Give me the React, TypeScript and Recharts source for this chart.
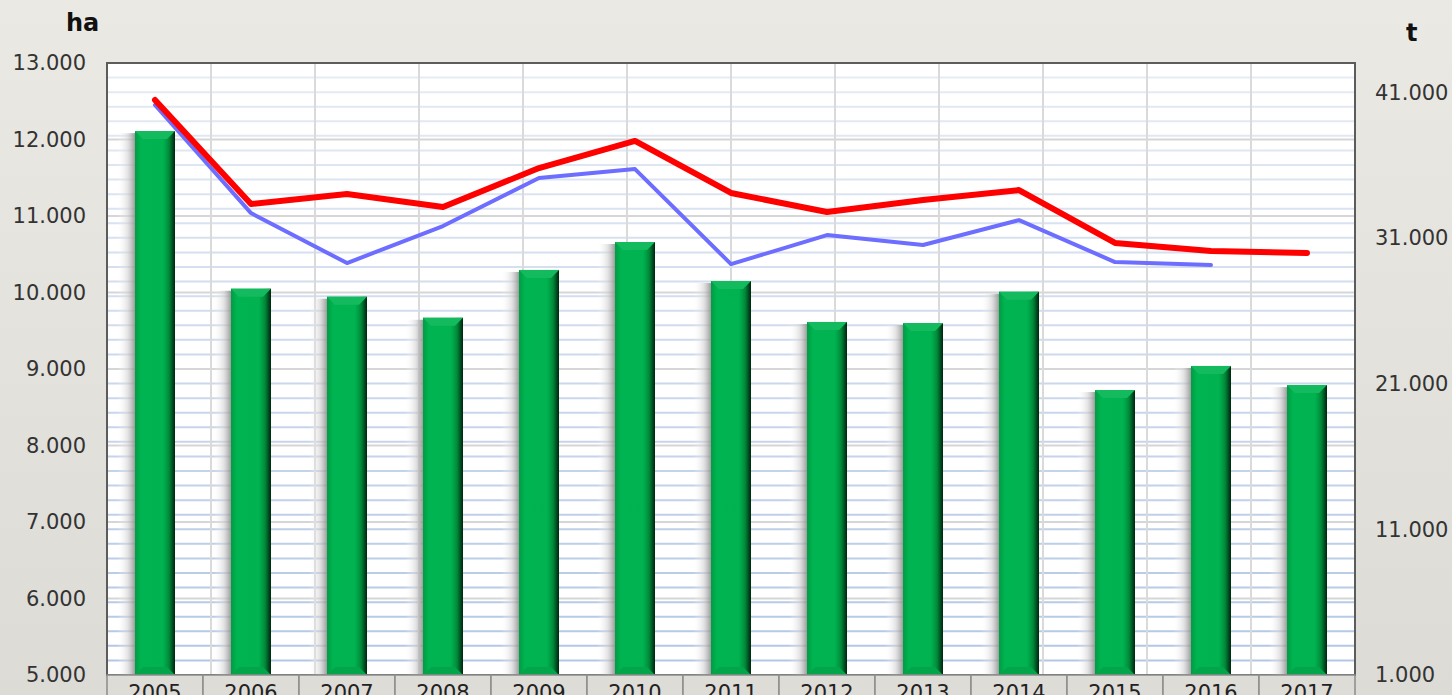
import {
  ComposedChart,
  Bar,
  Line,
  XAxis,
  YAxis,
  CartesianGrid,
  ReferenceArea,
} from "recharts";

const years = ["2005", "2006", "2007", "2008", "2009", "2010", "2011", "2012", "2013", "2014", "2015", "2016", "2017"];
const areaHa = [12110, 10050, 9945, 9670, 10295, 10660, 10150, 9615, 9600, 10010, 8725, 9040, 8790];
const tonsRed = [40460, 33320, 34010, 33120, 35790, 37650, 34080, 32770, 33600, 34280, 30650, 30100, 29960];
const tonsBlue = [40120, 32700, 29270, 31810, 35110, 35720, 29200, 31190, 30510, 32220, 29340, 29140, null];
const leftTicks = [5000, 6000, 7000, 8000, 9000, 10000, 11000, 12000, 13000];
const rightTicks = [1000, 11000, 21000, 31000, 41000];

const data = years.map((year, i) => ({
  year,
  ha: areaHa[i],
  red: tonsRed[i],
  blue: tonsBlue[i],
}));

// grid helpers: category boundaries and minor lines every 1.000 t
const cellEdges = [...years.map((_, i) => i), years.length];
const minorTicks = Array.from({ length: 43 }, (_, i) => 1000 + i * 1000);

const W = 1452;
const H = 695;
const LEFT_W = 107;
const RIGHT_W = 97;
const TOP = 63;
const PLOT_H = 612;
const FONT = "'DejaVu Sans', Verdana, sans-serif";

const fmt = (v: number) => String(v).replace(/\B(?=(\d{3})+(?!\d))/g, ".");

// minor lines fade from pale at the top to a stronger blue at the bottom
function MinorLine(props: any) {
  const { x1, x2, y1, y2 } = props;
  const t = Math.max(0, Math.min(1, (y1 - TOP) / PLOT_H));
  const mix = (a: number, b: number) => Math.round(a + (b - a) * t);
  const color = `rgb(${mix(230, 178)},${mix(236, 198)},${mix(244, 228)})`;
  return <line x1={x1} x2={x2} y1={y1} y2={y2} stroke={color} strokeWidth={2} />;
}

function BevelBar(props: any) {
  const { x, y, width, height } = props;
  if (!height || height <= 0) return null;
  const b = 8;
  return (
    <g>
      <rect x={x - 18} y={y + 2} width={18} height={height - 2} fill="url(#barShadow)" />
      <rect x={x} y={y} width={width} height={height} fill="url(#barBody)" />
      <polygon
        points={`${x},${y} ${x + width},${y} ${x + width - b},${y + b} ${x + b},${y + b}`}
        fill="#14bb5e"
      />
      <polygon
        points={`${x},${y + height} ${x + width},${y + height} ${x + width - b},${y + height - b} ${x + b},${y + height - b}`}
        fill="#03a54a"
      />
    </g>
  );
}

function YearTick(props: any) {
  const { x, y, payload } = props;
  const w = (W - LEFT_W - RIGHT_W) / years.length;
  return (
    <g>
      <rect x={x - w / 2} y={y} width={w} height={30} fill="#dddcd7" stroke="#8c8c8c" strokeWidth={1.5} />
      <text x={x} y={y + 25} textAnchor="middle" fontSize={21} fill="#222" fontFamily={FONT}>
        {payload.value}
      </text>
    </g>
  );
}

export default function App() {
  return (
    <div
      style={{
        position: "absolute",
        left: 0,
        top: 0,
        width: W,
        height: H,
        overflow: "hidden",
        background: "linear-gradient(to bottom, #ebe9e3, #dcdbd6)",
        fontFamily: FONT,
      }}
    >
      <svg width={0} height={0} style={{ position: "absolute" }}>
        <defs>
          <linearGradient id="barBody" x1="0" y1="0" x2="1" y2="0">
            <stop offset="0" stopColor="#009c44" />
            <stop offset="0.15" stopColor="#00b451" />
            <stop offset="0.7" stopColor="#00b350" />
            <stop offset="0.85" stopColor="#008a3a" />
            <stop offset="1" stopColor="#00240e" />
          </linearGradient>
          <linearGradient id="barShadow" x1="0" y1="0" x2="1" y2="0">
            <stop offset="0" stopColor="#ffffff" stopOpacity="0" />
            <stop offset="0.6" stopColor="#d0d0d0" stopOpacity="0.6" />
            <stop offset="1" stopColor="#8c8c8c" stopOpacity="0.85" />
          </linearGradient>
        </defs>
      </svg>
      <div style={{ position: "absolute", left: 66, top: 9, fontSize: 24, fontWeight: "bold", color: "#111" }}>ha</div>
      <div style={{ position: "absolute", left: 1406, top: 19, fontSize: 24, fontWeight: "bold", color: "#111" }}>t</div>
      <ComposedChart
        width={W}
        height={H}
        data={data}
        margin={{ top: TOP, right: 0, left: 0, bottom: 0 }}
        style={{ position: "absolute", left: 0, top: 0 }}
      >
        <CartesianGrid
          xAxisId="cells"
          yAxisId="minor"
          vertical={false}
          fill="#ffffff"
          horizontal={(p: any) => <MinorLine key={`m-${p.index}`} {...p} />}
        />
        <CartesianGrid xAxisId="cells" yAxisId="left" vertical={false} stroke="#d6d6d6" strokeWidth={2} />
        <CartesianGrid xAxisId="cells" yAxisId="left" horizontal={false} stroke="#dadada" strokeWidth={2} />
        <XAxis
          dataKey="year"
          height={H - TOP - PLOT_H}
          tick={<YearTick />}
          tickLine={false}
          axisLine={false}
          tickSize={0}
          tickMargin={0}
          interval={0}
        />
        <XAxis
          xAxisId="cells"
          type="number"
          domain={[0, years.length]}
          ticks={cellEdges}
          interval={0}
          allowDataOverflow
          hide
        />
        <YAxis
          yAxisId="left"
          width={LEFT_W}
          domain={[5000, 13000]}
          ticks={leftTicks}
          tickFormatter={fmt}
          axisLine={false}
          tickLine={false}
          tickSize={0}
          tickMargin={21}
          tick={{ fontSize: 21, fill: "#333", fontFamily: FONT }}
        />
        <YAxis
          yAxisId="right"
          orientation="right"
          width={RIGHT_W}
          domain={[1000, 43000]}
          ticks={rightTicks}
          tickFormatter={fmt}
          axisLine={false}
          tickLine={false}
          tickSize={0}
          tickMargin={20}
          tick={{ fontSize: 21, fill: "#333", fontFamily: FONT, textAnchor: "start" }}
        />
        <YAxis
          yAxisId="minor"
          domain={[1000, 43000]}
          ticks={minorTicks}
          interval={0}
          allowDataOverflow
          hide
        />
        <Bar yAxisId="left" dataKey="ha" barSize={40} shape={<BevelBar />} isAnimationActive={false} />
        <Line
          yAxisId="right"
          dataKey="blue"
          stroke="#6d6dff"
          strokeWidth={4}
          dot={false}
          strokeLinecap="round"
          strokeLinejoin="round"
          connectNulls={false}
          isAnimationActive={false}
        />
        <Line
          yAxisId="right"
          dataKey="red"
          stroke="#ff0000"
          strokeWidth={6}
          dot={false}
          strokeLinecap="round"
          strokeLinejoin="round"
          isAnimationActive={false}
        />
        <ReferenceArea
          yAxisId="left"
          y1={5000}
          y2={13000}
          fill="none"
          stroke="#5c5c5c"
          strokeWidth={2}
          ifOverflow="visible"
        />
      </ComposedChart>
    </div>
  );
}
